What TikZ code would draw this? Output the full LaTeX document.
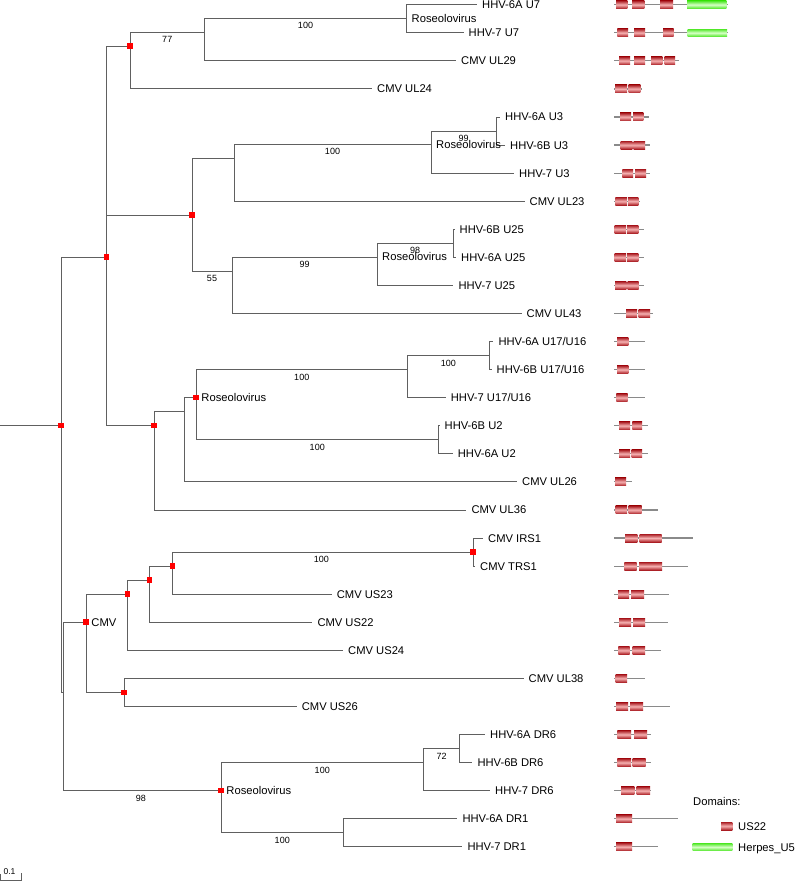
\documentclass[tikz,border=0pt]{standalone}
\usepackage{fontspec}
\setmainfont{Liberation Sans}
\usetikzlibrary{positioning}
\definecolor{branchgray}{RGB}{96,96,96}
\definecolor{linegray}{RGB}{138,138,138}
\definecolor{domdark}{RGB}{170,28,34}
\definecolor{domlight}{RGB}{246,178,178}
\definecolor{hpdark}{RGB}{84,232,44}
\definecolor{hplight}{RGB}{214,255,198}

\begin{document}
\begin{tikzpicture}[x=1pt, y=-1pt,
	branch/.style={draw=branchgray, line width=0.9pt},
	mk/.style={fill=red, draw=none, minimum size=5.5pt, inner sep=0pt, outer sep=0pt},
	leaf/.style={inner sep=0pt, text height=8pt, text depth=0pt, font=\fontsize{11.2}{13}\selectfont},
	boot/.style={inner sep=0pt, text height=6.4pt, text depth=0pt, font=\fontsize{9}{10}\selectfont},
	backbone/.style={draw=linegray, line width=1.2pt},
	dom/.style={top color=domdark, bottom color=domdark, middle color=domlight},
	herpes/.style={top color=hpdark, bottom color=hpdark, middle color=hplight}]
			\useasboundingbox (0,0) rectangle (795,882);
			
			% internal nodes
			\coordinate (r0) at (0,425.5);
			\node[mk] (root) at (61,425.5) {};
			\node[mk] (upper) at (106.5,257) {};
			\node[mk] (u7grp) at (130,46) {};
			\coordinate (u7out) at (204.5,32.5);
			\coordinate (u7) at (406.5,18.5);
			\node[mk] (u3u25) at (192,215) {};
			\coordinate (u3out) at (234,158.5);
			\coordinate (u3) at (431,144.5);
			\coordinate (u3ab) at (496,131);
			\coordinate (u25out) at (232,271);
			\coordinate (u25) at (377,257);
			\coordinate (u25ab) at (453,243);
			\node[mk] (u17u2) at (154,425.5) {};
			\coordinate (u17out) at (184.5,411.5);
			\node[mk] (rose) at (196,397.7) {};
			\coordinate (u17) at (407.5,369.5);
			\coordinate (u17ab) at (489,355.5);
			\coordinate (u2) at (438.5,439.5);
			\coordinate (lower) at (63.5,692.3);
			\node[mk] (cmv) at (86,622) {};
			\node[mk] (trs) at (127.5,594) {};
			\node[mk] (trsb) at (149.5,580) {};
			\node[mk] (trsc) at (172.5,566) {};
			\node[mk] (irs) at (473,552) {};
			\node[mk] (us26grp) at (124,692.3) {};
			\node[mk] (dr) at (221,790.7) {};
			\coordinate (dr6) at (423.5,762.5);
			\coordinate (dr6ab) at (459.5,748.5);
			\coordinate (dr1) at (343.5,832.5);
			
			% leaves
			\foreach \nm/\lx/\row/\txt in {au7/477/0/HHV-6A U7, su7/463.5/1/HHV-7 U7, ul29/456/2/CMV UL29, ul24/372/3/CMV UL24,
				au3/500/4/HHV-6A U3, bu3/505/5/HHV-6B U3, su3/514/6/HHV-7 U3, ul23/524.5/7/CMV UL23,
				bu25/454.5/8/HHV-6B U25, au25/456/9/HHV-6A U25, su25/453.3/10/HHV-7 U25, ul43/521.5/11/CMV UL43,
				au17/493.3/12/{HHV-6A U17/U16}, bu17/491.5/13/{HHV-6B U17/U16}, su17/445.7/14/{HHV-7 U17/U16},
				bu2/439.5/15/HHV-6B U2, au2/452.7/16/HHV-6A U2, ul26/517/17/CMV UL26, ul36/466.3/18/CMV UL36,
				irs1/483/19/CMV IRS1, trs1/475/20/CMV TRS1, us23/331.7/21/CMV US23, us22/312.3/22/CMV US22,
				us24/343/23/CMV US24, ul38/523.5/24/CMV UL38, us26/296.7/25/CMV US26,
				adr6/485/26/HHV-6A DR6, bdr6/472.3/27/HHV-6B DR6, sdr6/490/28/HHV-7 DR6,
				adr1/457.3/29/HHV-6A DR1, sdr1/462.3/30/HHV-7 DR1}{
				\coordinate (\nm) at (\lx,{4.7+28.07*\row});
				\node[leaf, right=5pt of \nm] (t\nm) {\txt};
			}
			
			% branches
			\draw[branch] (r0) -- (root);
			\foreach \pa/\ch in {root/upper, root/lower, upper/u7grp, upper/u3u25, upper/u17u2, u7grp/ul24, u7out/ul29,
				u7/au7, u7/su7, u3u25/u3out, u3out/ul23, u3/su3, u3ab/au3, u3ab/bu3, u25out/ul43, u25/su25,
				u25ab/bu25, u25ab/au25, u17u2/u17out, u17u2/ul36, u17out/rose, u17out/ul26, u17/su17,
				u17ab/au17, u17ab/bu17, u2/bu2, u2/au2, lower/cmv, cmv/trs, cmv/us26grp, trs/trsb, trs/us24,
				trsb/trsc, trsb/us22, trsc/us23, irs/irs1, irs/trs1, us26grp/ul38, us26grp/us26,
				dr6/sdr6, dr6ab/adr6, dr6ab/bdr6, dr1/adr1, dr1/sdr1}{
				\draw[branch] (\pa) |- (\ch);
			}
			\foreach \pa/\ch/\bval in {u7grp/u7out/77, u7out/u7/100, u3u25/u25out/55, u3out/u3/100, u3/u3ab/99,
				u25out/u25/99, u25/u25ab/98, rose/u17/100, u17/u17ab/100, rose/u2/100, trsc/irs/100,
				lower/dr/98, dr/dr6/100, dr6/dr6ab/72, dr/dr1/100}{
				\draw[branch] (\pa) |- (\ch) node[boot, pos=0.75, yshift=-7.3pt] {\bval};
			}
			
			% clade names
			\node[leaf, right=5pt of u7] (ru7) {Roseolovirus};
			\node[leaf, right=5pt of u3] (ru3) {Roseolovirus};
			\node[leaf, right=5pt of u25] (ru25) {Roseolovirus};
			\node[leaf, right=2.5pt of rose] (rrose) {Roseolovirus};
			\node[leaf, right=2.5pt of dr] (rdr) {Roseolovirus};
			\node[leaf, right=2.5pt of cmv] (rcmv) {CMV};
			
			% domain rows
			\foreach \row/\e in {0/727.7, 1/728, 2/679.3, 3/642, 4/649, 5/650, 6/650, 7/640.3, 8/643.7, 9/643.7,
				10/643.7, 11/653.3, 12/645, 13/645, 14/645, 15/647.7, 16/647.7, 17/631.7, 18/658.3, 19/692.7,
				20/688.3, 21/669, 22/667.7, 23/660.7, 24/645, 25/670, 26/651, 27/651, 28/651, 29/677.7, 30/658.3}{
				\draw[backbone] (614,{4.7+28.07*\row}) -- (\e,{4.7+28.07*\row});
			}
			\foreach \row/\a/\b in {0/616/627.3, 0/632/644.3, 0/660/673, 1/617.3/628, 1/634/645, 1/663/673.7,
				2/619/630, 2/634/645, 2/651/662.3, 2/664.7/675, 3/615/627, 3/628.7/640.3, 4/620/631, 4/633/643.3,
				5/620.7/632.3, 5/633.7/645, 6/622.3/633, 6/635/646, 7/615.3/627, 7/628/638.3, 8/614.7/626, 8/627/638.3,
				9/614.7/626, 9/627/638.3, 10/615/626.3, 10/627.7/638.7, 11/626/637, 11/638.7/650,
				12/617/628.3, 13/617/628.3, 14/616.3/627.7, 15/619/630, 15/632.3/642, 16/619/630, 16/631.7/642,
				17/615/626, 18/615.7/627, 18/628.7/641.7, 19/625/637.3, 19/639.7/661.7, 20/624.3/636.7, 20/639/662,
				21/618/629, 21/631/644, 22/619/631, 22/633/645, 23/618.3/629.7, 23/632.7/645, 24/615.5/627,
				25/616/628, 25/630/643, 26/617.3/631, 26/634/647, 27/617.3/631, 27/632.7/645.7,
				28/621/634.3, 28/636.7/650, 29/616/632, 30/616/632}{
				\shade[dom] (\a,{4.7+28.07*\row-4}) rectangle (\b,{4.7+28.07*\row+4});
			}
			\shade[herpes] (687,1) rectangle (726.3,8.4);
			\shade[herpes] (687.7,29.1) rectangle (727,36.5);
			
			% legend
			\node[leaf, anchor=west] (dlab) at (693,801) {Domains:};
			\shade[dom] (721,822) rectangle (732.3,830);
			\node[leaf, anchor=west] (lus22) at (738,826) {US22};
			\shade[herpes] (692.7,843.3) rectangle (732.3,850.7);
			\node[leaf, anchor=west] (lhp) at (738,847) {Herpes\_U5};
			
			% scale
			\draw[branch] (0.5,874) -- (0.5,880.5) -- (21,880.5) -- (21,873);
			\node[boot, font=\fontsize{8.5}{10}\selectfont] (sbar) at (9.5,871.5) {0.1};
		\end{tikzpicture}
\end{document}
